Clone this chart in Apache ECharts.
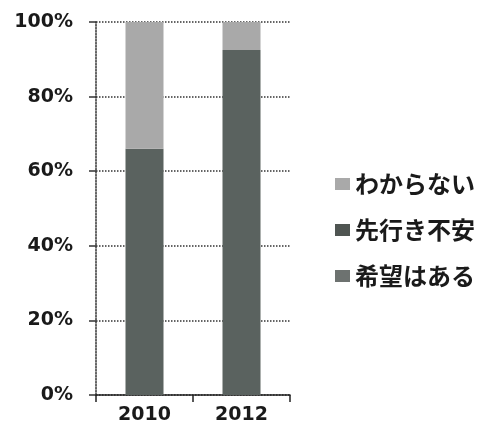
<!DOCTYPE html>
<html>
<head>
<meta charset="utf-8">
<script src="https://cdn.jsdelivr.net/npm/echarts@6/dist/echarts.min.js"></script>
<style>
  html, body { margin: 0; padding: 0; background: #fff; }
  #chart { width: 481px; height: 437px; }
</style>
</head>
<body>
<div id="chart"></div>
<script>
// Survey years
const years = ['2010', '2012'];
// Shares (%) per answer, stacked bottom to top
const hopeful = [66, 92.5];      // 希望はある
const anxious = [0, 0];          // 先行き不安
const unsure = [34, 7.5];        // わからない
const yTicks = [0, 20, 40, 60, 80, 100];

const labelFont = 'DejaVu Sans';
const chart = echarts.init(document.getElementById('chart'));

chart.setOption({
  animation: false,
  backgroundColor: '#ffffff',
  grid: { left: 96, right: 191, top: 22, bottom: 42 },
  legend: {
    orient: 'vertical',
    left: 330,
    top: 167,
    itemWidth: 15,
    itemHeight: 12,
    itemGap: 22,
    icon: 'rect',
    textStyle: {
      fontFamily: 'Noto Sans CJK JP',
      fontWeight: 'bold',
      fontSize: 24,
      color: '#1a1a1a'
    },
    data: [
      { name: 'わからない', itemStyle: { color: '#a9a9a9' } },
      { name: '先行き不安', itemStyle: { color: '#4f5552' } },
      { name: '希望はある', itemStyle: { color: '#6d7270' } }
    ]
  },
  xAxis: {
    type: 'category',
    data: years,
    axisLine: { show: true, lineStyle: { color: '#222', width: 1.5 } },
    axisTick: { show: true, length: 7, inside: false, lineStyle: { color: '#222', width: 1.5 } },
    axisLabel: {
      fontFamily: labelFont,
      fontWeight: 'bold',
      fontSize: 19,
      color: '#1a1a1a',
      margin: 11
    }
  },
  yAxis: {
    type: 'value',
    min: yTicks[0],
    max: yTicks[yTicks.length - 1],
    interval: 20,
    axisLine: { show: true, lineStyle: { color: '#333', width: 1.5, type: 'dotted' } },
    axisTick: { show: true, length: 7, lineStyle: { color: '#333', width: 1.5 } },
    splitLine: { show: true, lineStyle: { color: '#333', width: 1.5, type: 'dotted' } },
    axisLabel: {
      fontFamily: labelFont,
      fontWeight: 'bold',
      fontSize: 19,
      color: '#1a1a1a',
      margin: 23,
      formatter: v => v + '%'
    }
  },
  series: [
    {
      name: '希望はある', type: 'bar', stack: 'share', data: hopeful,
      barWidth: 38, itemStyle: { color: '#5a625f' }
    },
    {
      name: '先行き不安', type: 'bar', stack: 'share', data: anxious,
      barWidth: 38, itemStyle: { color: '#5a625f' }
    },
    {
      name: 'わからない', type: 'bar', stack: 'share', data: unsure,
      barWidth: 38, itemStyle: { color: '#a9a9a9' }
    }
  ]
});
</script>
</body>
</html>
